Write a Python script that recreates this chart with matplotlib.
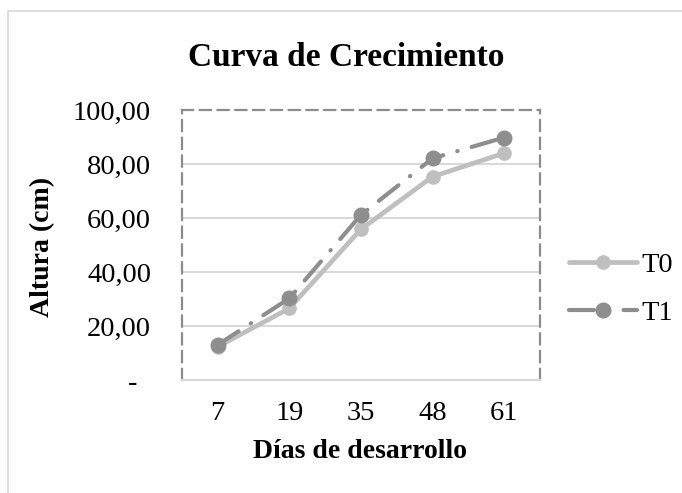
import matplotlib
matplotlib.use("Agg")
import matplotlib.pyplot as plt
from matplotlib.patches import Rectangle

plt.rcParams["font.family"] = ["Liberation Serif", "DejaVu Serif"]

dias = ["7", "19", "35", "48", "61"]
t0 = [12.3, 26.5, 55.8, 75.3, 84.0]
t1 = [13.0, 30.2, 61.1, 82.1, 89.8]
yticks = [0, 20, 40, 60, 80, 100]
ytick_labels = ["-  ", "20,00", "40,00", "60,00", "80,00", "100,00"]

C_T0 = "#bfbfbf"
C_T1 = "#8e8e8e"
GRID = "#d9d9d9"
BOX = "#8c8c8c"

fig = plt.figure(figsize=(6.82, 4.93), dpi=100)
# outer chart border (cropped on right/bottom)
fig.patches.append(Rectangle((8 / 682, -0.05), 1.1, 1 - 11 / 493 + 0.05,
                             transform=fig.transFigure, fill=False,
                             edgecolor="#d9d9d9", linewidth=1.2))

ax = fig.add_axes([181.7 / 682, 1 - 380 / 493, (540 - 181.7) / 682, (380 - 110) / 493])
x = range(len(dias))

ax.plot(x, t0, color=C_T0, lw=3.4, marker="o", ms=9.5, solid_capstyle="round",
        label="T0", zorder=3)
ax.plot(x, t1, color=C_T1, lw=3.0, marker="o", ms=10.5,
        linestyle=(0, (6, 3.5, 0.1, 3.5)), dash_capstyle="round", label="T1", zorder=4)

ax.set_xlim(-0.5, 4.5)
ax.set_ylim(0, 100)
ax.set_xticks(list(x))
ax.set_xticklabels(dias)
ax.set_yticks(yticks)
ax.set_yticklabels(ytick_labels)
ax.tick_params(axis="both", length=0, labelsize=20.5, colors="#000000")
ax.tick_params(axis="y", pad=22)
ax.tick_params(axis="x", pad=15)
for g in yticks[1:-1]:
    ax.axhline(g, color=GRID, lw=1.5, zorder=1)

for s in ["left", "top", "right"]:
    ax.spines[s].set_color(BOX)
    ax.spines[s].set_linewidth(1.6)
    ax.spines[s].set_linestyle((0, (5, 3)))
ax.spines["bottom"].set_color(GRID)
ax.spines["bottom"].set_linewidth(1.6)

fig.text(360 / 682, 1 - 452 / 493, "Días de desarrollo", fontsize=20,
         fontweight="bold", ha="center", va="center")
fig.text(43 / 682, 1 - 247 / 493, "Altura (cm)", fontsize=20, rotation=90,
         fontweight="bold", ha="center", va="center")
fig.text(346 / 682, 1 - 57 / 493, "Curva de Crecimiento", fontsize=24,
         fontweight="bold", ha="center", va="center")

fig.legend(loc="center left", bbox_to_anchor=(543 / 682, 1 - 289 / 493),
           frameon=False, fontsize=20.5, handlelength=2.4, labelspacing=0.75,
           handletextpad=0.15)

fig.savefig("out.png", dpi=100)
